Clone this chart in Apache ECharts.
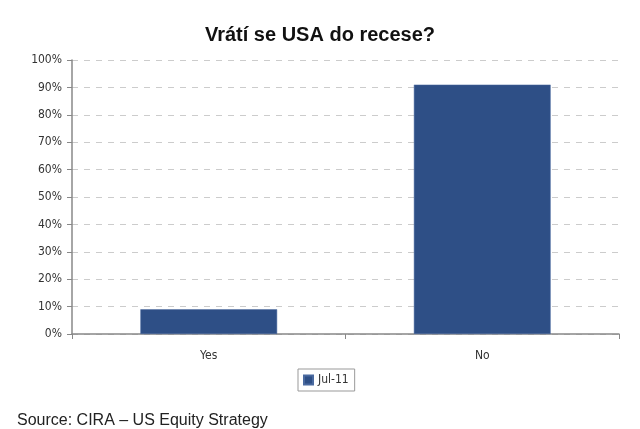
<!DOCTYPE html>
<html>
<head>
<meta charset="utf-8">
<script src="https://cdn.jsdelivr.net/npm/echarts@6/dist/echarts.min.js"></script>
<style>
  html, body { margin: 0; padding: 0; background: #fff; }
  #chart { width: 640px; height: 429px; }
</style>
</head>
<body>
<div id="chart"></div>
<script>
const categories = ["Yes", "No"];
const seriesName = "Jul-11";
const values = [9, 91]; // %
const yTicks = [0, 10, 20, 30, 40, 50, 60, 70, 80, 90, 100];

const narrow = "'Liberation Sans Narrow', 'DejaVu Sans Condensed', sans-serif";

var myChart = echarts.init(document.getElementById("chart"));
var options = {
  backgroundColor: "#fff",
  animation: false,
  title: [
    {
      text: "Vrátí se USA do recese?",
      left: "center",
      top: 20,
      textStyle: { fontFamily: "'Liberation Sans', Arial, sans-serif", fontSize: 20, fontWeight: "bold", color: "#111" },
    },
    {
      text: "Source: CIRA – US Equity Strategy",
      left: 12,
      top: 408,
      textStyle: { fontFamily: "'Liberation Sans', Arial, sans-serif", fontSize: 16, fontWeight: "normal", color: "#222" },
    },
  ],
  legend: {
    data: [{ name: seriesName, icon: "rect" }],
    left: 298,
    top: 369,
    itemWidth: 9,
    itemHeight: 9,
    itemGap: 5,
    padding: [5, 6, 5, 5],
    borderColor: "#999",
    borderWidth: 1,
    textStyle: { fontFamily: narrow, fontSize: 12, color: "#333" },
  },
  grid: { left: 72, right: 21, top: 60, bottom: 95 },
  xAxis: {
    type: "category",
    data: categories,
    axisLine: { lineStyle: { color: "#888", width: 1.5 } },
    axisTick: { show: true, length: 5, lineStyle: { color: "#888" } },
    axisLabel: { margin: 16, fontFamily: narrow, fontSize: 12, color: "#333" },
  },
  yAxis: {
    type: "value",
    min: 0,
    max: 100,
    interval: 10,
    axisLine: { show: true, lineStyle: { color: "#888", width: 1.5 } },
    axisTick: { show: true, length: 5, lineStyle: { color: "#888" } },
    axisLabel: {
      margin: 10,
      fontFamily: narrow,
      fontSize: 12,
      color: "#333",
      formatter: (v) => (yTicks.includes(v) ? v + "%" : ""),
    },
    splitLine: { lineStyle: { color: "#ccc", type: [6, 6] } },
  },
  series: [
    {
      name: seriesName,
      type: "bar",
      data: values,
      barWidth: "50%",
      itemStyle: { color: "#2e4f86", borderColor: "#4a6aa0", borderWidth: 0.5 },
    },
  ],
};
myChart.setOption(options);
</script>
</body>
</html>
